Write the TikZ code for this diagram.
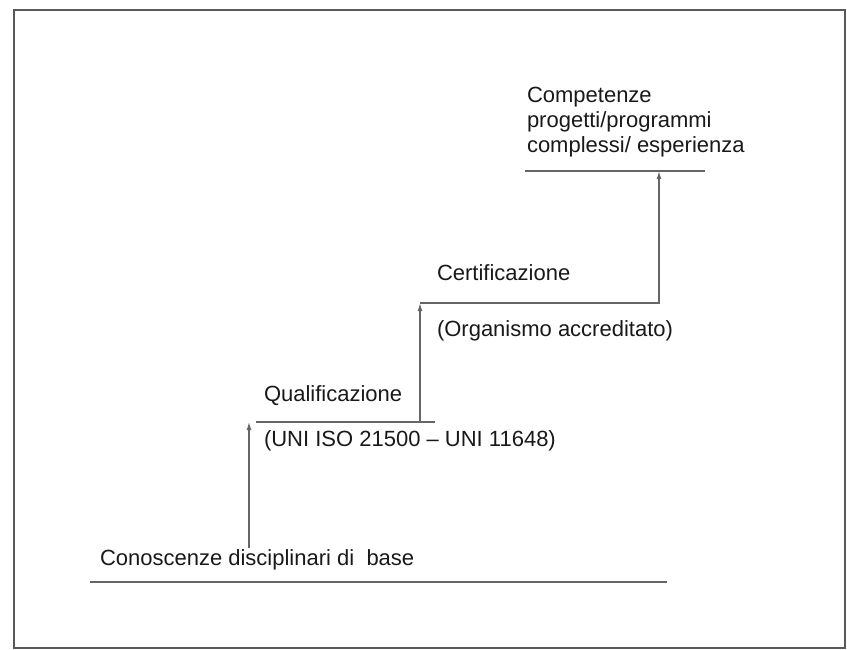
\documentclass[tikz,border=0pt]{standalone}
\usepackage{fontspec}
\setmainfont{Liberation Sans}
\usetikzlibrary{calc,positioning,arrows.meta}
\tikzset{
  steplabel/.style={
    anchor=base west,
    inner sep=0pt,
    outer sep=0pt,
    align=left,
    text=black!90,
    font=\fontsize{22}{25}\selectfont
  },
  stepline/.style={draw=black!60, line width=1.6pt},
  steparrow/.style={-{Latex[length=8pt, width=5pt]}, draw=black!60, line width=1.3pt},
}
\def\textdx{8}

\begin{document}
\begin{tikzpicture}[x=1pt, y=-1pt]
    \useasboundingbox (0,0) rectangle (847,650);
    \draw[black!65, line width=2pt] (14,10) rectangle (845,648);

    %% Base
    \coordinate (basel) at (90,582);
    \coordinate (baser) at (667,582);
    \draw[stepline] (basel) -- (baser);
    \node[steplabel] (base) at (100,565) {Conoscenze disciplinari di\ \ base};
    \coordinate (start) at (249,548);

    %% Qualification
    \coordinate (quall) at (256,422);
    \coordinate (qualr) at (435,422);
    \coordinate (qualup) at (420,422);
    \draw[stepline] (quall) -- (qualr);
    \node[steplabel] (qual) at ($ (quall) + (\textdx,-21) $) {Qualificazione};
    \node[steplabel] (qualnote) at ($ (quall) + (\textdx,24) $) {(UNI ISO 21500 -- UNI 11648)};

    %% Certification
    \coordinate (certl) at (420,303);
    \coordinate (certr) at (659,303);
    \node[steplabel] (cert) at ($ (certl) + (17,-23) $) {Certificazione};
    \node[steplabel] (certnote) at ($ (certl) + (17,33) $) {(Organismo accreditato)};

    %% Competences
    \coordinate (compl) at (525,171);
    \coordinate (compr) at (705,171);
    \coordinate (compup) at (659,171);
    \draw[stepline] (compl) -- (compr);
    \node[steplabel] (comp) at (527,153) {Competenze\\progetti/programmi\\complessi/ esperienza};

    %% Arrows
    \draw[steparrow] (start) -- (start|-quall);
    \draw[steparrow] (qualup) -- (certl);
    \draw[steparrow] (certl) -- (certr) -- (compup);
\end{tikzpicture}
\end{document}
